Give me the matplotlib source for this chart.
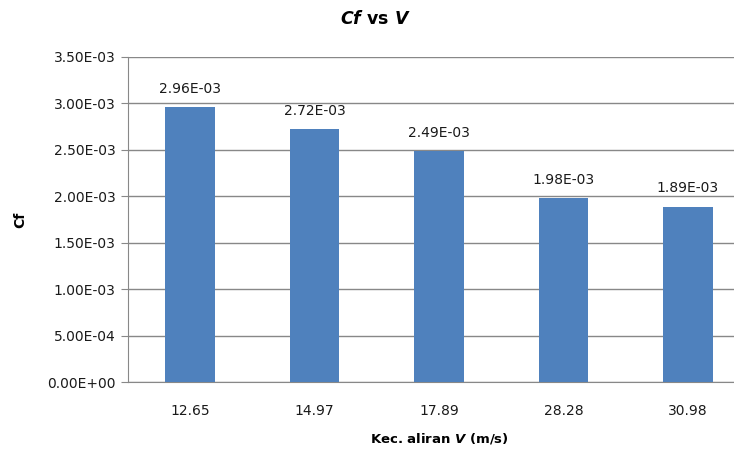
import matplotlib
matplotlib.use("Agg")
import matplotlib.pyplot as plt
from matplotlib.ticker import FuncFormatter, MultipleLocator

plt.rcParams['font.family'] = ['DejaVu Sans']
plt.rcParams['mathtext.fontset'] = 'custom'
plt.rcParams['mathtext.rm'] = 'DejaVu Sans:bold'
plt.rcParams['mathtext.bf'] = 'DejaVu Sans:bold'
plt.rcParams['mathtext.it'] = 'DejaVu Sans:bold:italic'
plt.rcParams['mathtext.bfit'] = 'DejaVu Sans:bold:italic'

velocities = ["12.65", "14.97", "17.89", "28.28", "30.98"]
cf_values = [2.96e-3, 2.72e-3, 2.49e-3, 1.98e-3, 1.89e-3]
value_labels = ["2.96E-03", "2.72E-03", "2.49E-03", "1.98E-03", "1.89E-03"]

fig = plt.figure(figsize=(7.34, 4.5), dpi=100)
ax = fig.add_axes([128 / 734, 68 / 450, 622 / 734, 325 / 450])

x = range(len(velocities))
ax.bar(x, cf_values, width=0.4, color="#4F81BD", zorder=3)

for xi, v, lab in zip(x, cf_values, value_labels):
    ax.annotate(lab, (xi, v), xytext=(0, 8), textcoords="offset points",
                ha="center", va="bottom", fontsize=10, color="#1a1a1a")

ax.set_xlim(-0.5, len(velocities) - 0.5)
ax.set_ylim(0, 3.5e-3)
ax.yaxis.set_major_locator(MultipleLocator(5e-4))


def sci(v, pos):
    return f"{v:.2E}"


ax.yaxis.set_major_formatter(FuncFormatter(sci))
ax.set_xticks(list(x))
ax.set_xticklabels(velocities)

ax.grid(axis="y", color="#888888", linewidth=1.0, zorder=0)
for side in ["top", "right"]:
    ax.spines[side].set_visible(False)
ax.spines["left"].set_color("#888888")
ax.spines["bottom"].set_color("#888888")
ax.tick_params(axis="y", length=5, color="#888888", labelsize=10,
               labelcolor="#1a1a1a", pad=4)
ax.tick_params(axis="x", length=0, labelsize=10, labelcolor="#1a1a1a", pad=16)

ax.set_ylabel("Cf", fontsize=10, fontweight="bold", labelpad=14)
ax.set_xlabel(r"Kec. aliran $\mathit{V}$ (m/s)", fontsize=9.5,
              fontweight="bold", labelpad=9)
fig.text(375 / 734, 1 - 19 / 450, r"$\mathit{Cf}$ vs $\mathit{V}$",
         fontsize=12.5, fontweight="bold", ha="center", va="center")

fig.savefig("out.png", dpi=100, facecolor="white")
